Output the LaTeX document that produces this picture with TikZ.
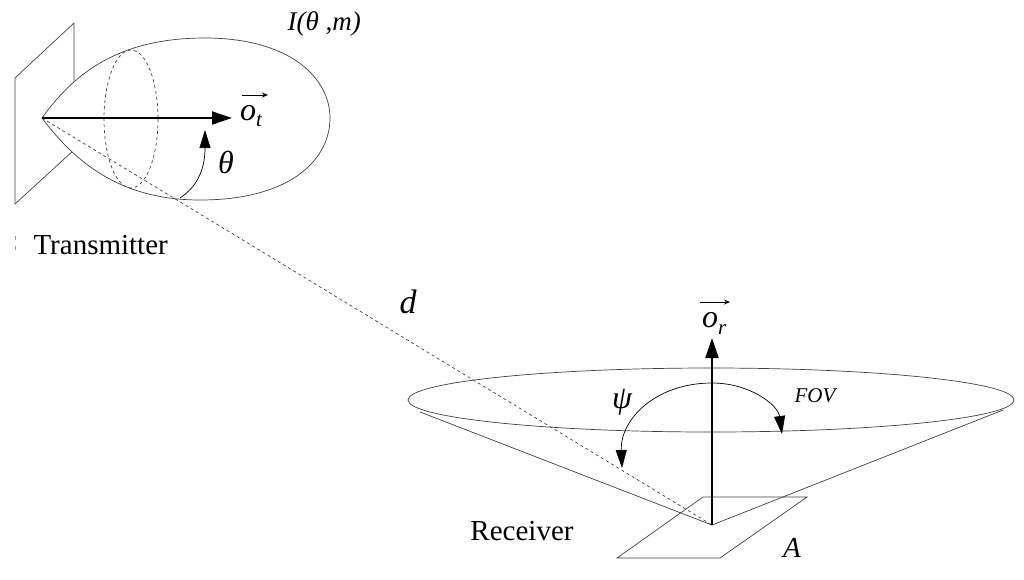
\documentclass[tikz,border=0pt]{standalone}
\usepackage{fontspec}
\setmainfont{Liberation Serif}
\usetikzlibrary{arrows.meta}
\begin{document}
\begin{tikzpicture}[x=1pt,y=-1pt,
  thin line/.style={line width=0.7pt,draw=black!75},
  big/.style={line width=2pt,-{Triangle[length=20pt,width=13pt]}},
  arc arrow/.style={line width=0.7pt,-{Triangle[length=18pt,width=11pt]}},
  vec/.style={line width=0.9pt,-{Stealth[length=6pt,width=5pt]}},
  lbl/.style={font=\fontsize{32}{34}\selectfont\itshape}]
\useasboundingbox (0,0) rectangle (1024,579);
% transmitter plate
\draw[thin line] (15,204) -- (15,78) -- (74,23) -- (74,150);
\draw[thin line] (15,204) -- (74,150);
% lobe
\draw[thin line,fill=white] (42,118) .. controls (75,72) and (120,38) .. (205,38)
  .. controls (290,38) and (330,78) .. (330,118)
  .. controls (330,160) and (290,200) .. (200,200)
  .. controls (120,200) and (75,162) .. (42,118);
\draw[thin line,dashed] (131,119) ellipse [x radius=27, y radius=69];
\coordinate (tx) at (42,118);
\coordinate (rx) at (712,525);
\draw[thin line,dashed] (tx) -- (rx);
\coordinate (ot) at (232,118);
\draw[big] (tx) -- (ot);
\node[lbl,anchor=base west,inner sep=0] (otl) at (240,120) {o\raisebox{-6pt}{\fontsize{21}{21}\selectfont t}};
\draw[vec] (242,95) -- (268,95);
\coordinate (th0) at (180,198);
\coordinate (th1) at (205,130);
\draw[arc arrow] (th0) .. controls (200,185) and (205,165) .. (th1);
\node[lbl] (thl) at (226,162) {θ};
\node[anchor=west,font=\fontsize{27}{29}\selectfont\itshape] (I) at (284,24) {I(θ ,m)};
\node[anchor=west,font=\fontsize{29}{31}\selectfont] (tr) at (30,245) {Transmitter};
\draw[black!40] (15,236) -- (15,240) (15,246) -- (15,250);
\node[font=\fontsize{34}{36}\selectfont\itshape] (d) at (408,302) {d};
% receiver
\draw[thin line] (rx) -- (420,412);
\draw[thin line] (rx) -- (1003,410);
\draw[thin line] (711,400) ellipse [x radius=303, y radius=32];
\draw[thin line] (617,558) -- (703,497) -- (807,497) -- (720,558) -- cycle;
\coordinate (or) at (712,338);
\draw[big] (rx) -- (or);
\node[lbl,anchor=base west,inner sep=0] (orl) at (702,327) {o\raisebox{-7pt}{\fontsize{21}{21}\selectfont r}};
\draw[vec] (700,302) -- (730,302);
\coordinate (top) at (712,383);
\draw[arc arrow] (top) .. controls (655,383) and (620,420) .. (622,468);
\draw[arc arrow] (top) .. controls (750,383) and (778,405) .. (782,434);
\node[lbl] (psi) at (622,402) {ψ};
\node[font=\fontsize{21}{23}\selectfont\itshape] (fov) at (815,396) {FOV};
\node[font=\fontsize{29}{31}\selectfont] (recv) at (522,531) {Receiver};
\node[font=\fontsize{29}{31}\selectfont\itshape] (A) at (792,548) {A};
\end{tikzpicture}
\end{document}
